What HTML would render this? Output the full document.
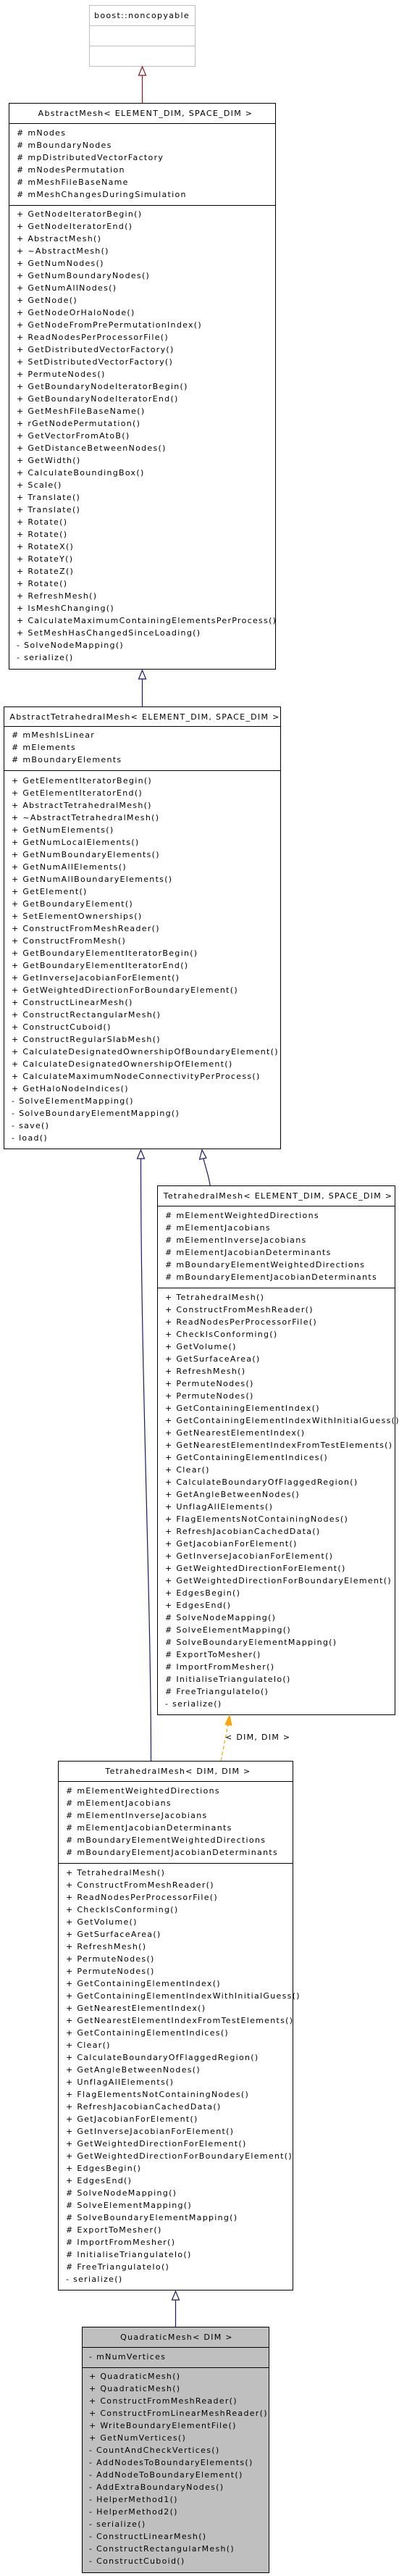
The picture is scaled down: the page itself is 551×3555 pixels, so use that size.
<!DOCTYPE html>
<html><head><meta charset="utf-8"><style>
html,body{margin:0;padding:0;background:#fff;width:551px;height:3555px;overflow:hidden}
svg{display:block}
text{font-family:"DejaVu Sans","Liberation Sans",sans-serif;font-size:11px;letter-spacing:1.3px;fill:#000}
</style></head><body>
<svg width="551" height="3555" viewBox="0 0 551 3555" xmlns="http://www.w3.org/2000/svg">
<!-- boost::noncopyable -->
<rect x="123.5" y="7.5" width="146" height="84" fill="#fff" stroke="#bfbfbf"/>
<line x1="123" y1="35.5" x2="270" y2="35.5" stroke="#bfbfbf"/>
<line x1="123" y1="63.5" x2="270" y2="63.5" stroke="#bfbfbf"/>
<text x="196" y="25" text-anchor="middle">boost::noncopyable</text>
<!-- red arrow -->
<line x1="196.5" y1="104" x2="196.5" y2="142" stroke="#8b1a1a" stroke-width="1.2"/>
<polygon points="196.5,92 191.5,104 201.5,104" fill="#fff" stroke="#8b1a1a" stroke-width="1.2"/>

<!-- AbstractMesh -->
<rect x="12.5" y="142.5" width="368" height="781" fill="#fff" stroke="#000"/>
<line x1="12" y1="170.5" x2="381" y2="170.5" stroke="#000"/>
<line x1="12" y1="283.5" x2="381" y2="283.5" stroke="#000"/>
<text x="201" y="160" text-anchor="middle">AbstractMesh&lt; ELEMENT_DIM, SPACE_DIM &gt;</text>
<text x="23" y="187"><tspan x="23">#  mNodes</tspan><tspan x="23" dy="17">#  mBoundaryNodes</tspan><tspan x="23" dy="17">#  mpDistributedVectorFactory</tspan><tspan x="23" dy="17">#  mNodesPermutation</tspan><tspan x="23" dy="17">#  mMeshFileBaseName</tspan><tspan x="23" dy="17">#  mMeshChangesDuringSimulation</tspan></text>
<text x="23" y="299"><tspan x="23">+ GetNodeIteratorBegin()</tspan><tspan x="23" dy="17">+ GetNodeIteratorEnd()</tspan><tspan x="23" dy="17">+ AbstractMesh()</tspan><tspan x="23" dy="17">+ ~AbstractMesh()</tspan><tspan x="23" dy="17">+ GetNumNodes()</tspan><tspan x="23" dy="17">+ GetNumBoundaryNodes()</tspan><tspan x="23" dy="17">+ GetNumAllNodes()</tspan><tspan x="23" dy="17">+ GetNode()</tspan><tspan x="23" dy="17">+ GetNodeOrHaloNode()</tspan><tspan x="23" dy="17">+ GetNodeFromPrePermutationIndex()</tspan><tspan x="23" dy="17">+ ReadNodesPerProcessorFile()</tspan><tspan x="23" dy="17">+ GetDistributedVectorFactory()</tspan><tspan x="23" dy="17">+ SetDistributedVectorFactory()</tspan><tspan x="23" dy="17">+ PermuteNodes()</tspan><tspan x="23" dy="17">+ GetBoundaryNodeIteratorBegin()</tspan><tspan x="23" dy="17">+ GetBoundaryNodeIteratorEnd()</tspan><tspan x="23" dy="17">+ GetMeshFileBaseName()</tspan><tspan x="23" dy="17">+ rGetNodePermutation()</tspan><tspan x="23" dy="17">+ GetVectorFromAtoB()</tspan><tspan x="23" dy="17">+ GetDistanceBetweenNodes()</tspan><tspan x="23" dy="17">+ GetWidth()</tspan><tspan x="23" dy="17">+ CalculateBoundingBox()</tspan><tspan x="23" dy="17">+ Scale()</tspan><tspan x="23" dy="17">+ Translate()</tspan><tspan x="23" dy="17">+ Translate()</tspan><tspan x="23" dy="17">+ Rotate()</tspan><tspan x="23" dy="17">+ Rotate()</tspan><tspan x="23" dy="17">+ RotateX()</tspan><tspan x="23" dy="17">+ RotateY()</tspan><tspan x="23" dy="17">+ RotateZ()</tspan><tspan x="23" dy="17">+ Rotate()</tspan><tspan x="23" dy="17">+ RefreshMesh()</tspan><tspan x="23" dy="17">+ IsMeshChanging()</tspan><tspan x="23" dy="17">+ CalculateMaximumContainingElementsPerProcess()</tspan><tspan x="23" dy="17">+ SetMeshHasChangedSinceLoading()</tspan><tspan x="23" dy="17">- SolveNodeMapping()</tspan><tspan x="23" dy="17">- serialize()</tspan></text>

<!-- arrow AbstractMesh <- AbstractTetra -->
<line x1="196.5" y1="937" x2="196.5" y2="975" stroke="#191970" stroke-width="1.2"/>
<polygon points="196.5,925 191.5,937 201.5,937" fill="#fff" stroke="#191970" stroke-width="1.2"/>

<!-- AbstractTetrahedralMesh -->
<rect x="5.5" y="975.5" width="382" height="610" fill="#fff" stroke="#000"/>
<line x1="5" y1="1002.5" x2="388" y2="1002.5" stroke="#000"/>
<line x1="5" y1="1063.5" x2="388" y2="1063.5" stroke="#000"/>
<text x="200" y="993" text-anchor="middle">AbstractTetrahedralMesh&lt; ELEMENT_DIM, SPACE_DIM &gt;</text>
<text x="16" y="1018"><tspan x="16">#  mMeshIsLinear</tspan><tspan x="16" dy="17">#  mElements</tspan><tspan x="16" dy="17">#  mBoundaryElements</tspan></text>
<text x="16" y="1081"><tspan x="16">+ GetElementIteratorBegin()</tspan><tspan x="16" dy="17">+ GetElementIteratorEnd()</tspan><tspan x="16" dy="17">+ AbstractTetrahedralMesh()</tspan><tspan x="16" dy="17">+ ~AbstractTetrahedralMesh()</tspan><tspan x="16" dy="17">+ GetNumElements()</tspan><tspan x="16" dy="17">+ GetNumLocalElements()</tspan><tspan x="16" dy="17">+ GetNumBoundaryElements()</tspan><tspan x="16" dy="17">+ GetNumAllElements()</tspan><tspan x="16" dy="17">+ GetNumAllBoundaryElements()</tspan><tspan x="16" dy="17">+ GetElement()</tspan><tspan x="16" dy="17">+ GetBoundaryElement()</tspan><tspan x="16" dy="17">+ SetElementOwnerships()</tspan><tspan x="16" dy="17">+ ConstructFromMeshReader()</tspan><tspan x="16" dy="17">+ ConstructFromMesh()</tspan><tspan x="16" dy="17">+ GetBoundaryElementIteratorBegin()</tspan><tspan x="16" dy="17">+ GetBoundaryElementIteratorEnd()</tspan><tspan x="16" dy="17">+ GetInverseJacobianForElement()</tspan><tspan x="16" dy="17">+ GetWeightedDirectionForBoundaryElement()</tspan><tspan x="16" dy="17">+ ConstructLinearMesh()</tspan><tspan x="16" dy="17">+ ConstructRectangularMesh()</tspan><tspan x="16" dy="17">+ ConstructCuboid()</tspan><tspan x="16" dy="17">+ ConstructRegularSlabMesh()</tspan><tspan x="16" dy="17">+ CalculateDesignatedOwnershipOfBoundaryElement()</tspan><tspan x="16" dy="17">+ CalculateDesignatedOwnershipOfElement()</tspan><tspan x="16" dy="17">+ CalculateMaximumNodeConnectivityPerProcess()</tspan><tspan x="16" dy="17">+ GetHaloNodeIndices()</tspan><tspan x="16" dy="17">- SolveElementMapping()</tspan><tspan x="16" dy="17">- SolveBoundaryElementMapping()</tspan><tspan x="16" dy="17">- save()</tspan><tspan x="16" dy="17">- load()</tspan></text>

<!-- arrows from AbstractTetra -->
<path d="M194.5,1599 C194.5,1900 208.5,2200 208.5,2430" fill="none" stroke="#191970" stroke-width="1.2"/>
<polygon points="194.5,1587 189.5,1599 199.5,1599" fill="#fff" stroke="#191970" stroke-width="1.2"/>
<path d="M281,1599 C284,1612 289,1625 290,1636" fill="none" stroke="#191970" stroke-width="1.2"/>
<polygon points="279,1587 275.5,1600 285,1598" fill="#fff" stroke="#191970" stroke-width="1.2"/>

<!-- TetrahedralMesh<ELEMENT_DIM,SPACE_DIM> -->
<rect x="217.5" y="1636.5" width="328" height="730" fill="#fff" stroke="#000"/>
<line x1="217" y1="1664.5" x2="546" y2="1664.5" stroke="#000"/>
<line x1="217" y1="1777.5" x2="546" y2="1777.5" stroke="#000"/>
<text x="384" y="1654" text-anchor="middle">TetrahedralMesh&lt; ELEMENT_DIM, SPACE_DIM &gt;</text>
<text x="228" y="1681"><tspan x="228">#  mElementWeightedDirections</tspan><tspan x="228" dy="17">#  mElementJacobians</tspan><tspan x="228" dy="17">#  mElementInverseJacobians</tspan><tspan x="228" dy="17">#  mElementJacobianDeterminants</tspan><tspan x="228" dy="17">#  mBoundaryElementWeightedDirections</tspan><tspan x="228" dy="17">#  mBoundaryElementJacobianDeterminants</tspan></text>
<text x="228" y="1794"><tspan x="228">+ TetrahedralMesh()</tspan><tspan x="228" dy="17">+ ConstructFromMeshReader()</tspan><tspan x="228" dy="17">+ ReadNodesPerProcessorFile()</tspan><tspan x="228" dy="17">+ CheckIsConforming()</tspan><tspan x="228" dy="17">+ GetVolume()</tspan><tspan x="228" dy="17">+ GetSurfaceArea()</tspan><tspan x="228" dy="17">+ RefreshMesh()</tspan><tspan x="228" dy="17">+ PermuteNodes()</tspan><tspan x="228" dy="17">+ PermuteNodes()</tspan><tspan x="228" dy="17">+ GetContainingElementIndex()</tspan><tspan x="228" dy="17">+ GetContainingElementIndexWithInitialGuess()</tspan><tspan x="228" dy="17">+ GetNearestElementIndex()</tspan><tspan x="228" dy="17">+ GetNearestElementIndexFromTestElements()</tspan><tspan x="228" dy="17">+ GetContainingElementIndices()</tspan><tspan x="228" dy="17">+ Clear()</tspan><tspan x="228" dy="17">+ CalculateBoundaryOfFlaggedRegion()</tspan><tspan x="228" dy="17">+ GetAngleBetweenNodes()</tspan><tspan x="228" dy="17">+ UnflagAllElements()</tspan><tspan x="228" dy="17">+ FlagElementsNotContainingNodes()</tspan><tspan x="228" dy="17">+ RefreshJacobianCachedData()</tspan><tspan x="228" dy="17">+ GetJacobianForElement()</tspan><tspan x="228" dy="17">+ GetInverseJacobianForElement()</tspan><tspan x="228" dy="17">+ GetWeightedDirectionForElement()</tspan><tspan x="228" dy="17">+ GetWeightedDirectionForBoundaryElement()</tspan><tspan x="228" dy="17">+ EdgesBegin()</tspan><tspan x="228" dy="17">+ EdgesEnd()</tspan><tspan x="228" dy="17">#  SolveNodeMapping()</tspan><tspan x="228" dy="17">#  SolveElementMapping()</tspan><tspan x="228" dy="17">#  SolveBoundaryElementMapping()</tspan><tspan x="228" dy="17">#  ExportToMesher()</tspan><tspan x="228" dy="17">#  ImportFromMesher()</tspan><tspan x="228" dy="17">#  InitialiseTriangulateIo()</tspan><tspan x="228" dy="17">#  FreeTriangulateIo()</tspan><tspan x="228" dy="17">- serialize()</tspan></text>

<!-- orange template arrow -->
<path d="M305,2430 L315,2380" fill="none" stroke="#ffa500" stroke-width="1.2" stroke-dasharray="5,3"/>
<polygon points="317,2367 311,2380 320,2381" fill="#ffa500" stroke="#ffa500"/>
<text x="311" y="2401">&lt; DIM, DIM &gt;</text>

<!-- TetrahedralMesh<DIM,DIM> -->
<rect x="80.5" y="2430.5" width="324" height="730" fill="#fff" stroke="#000"/>
<line x1="80" y1="2458.5" x2="405" y2="2458.5" stroke="#000"/>
<line x1="80" y1="2571.5" x2="405" y2="2571.5" stroke="#000"/>
<text x="246" y="2448" text-anchor="middle">TetrahedralMesh&lt; DIM, DIM &gt;</text>
<text x="91" y="2475"><tspan x="91">#  mElementWeightedDirections</tspan><tspan x="91" dy="17">#  mElementJacobians</tspan><tspan x="91" dy="17">#  mElementInverseJacobians</tspan><tspan x="91" dy="17">#  mElementJacobianDeterminants</tspan><tspan x="91" dy="17">#  mBoundaryElementWeightedDirections</tspan><tspan x="91" dy="17">#  mBoundaryElementJacobianDeterminants</tspan></text>
<text x="91" y="2588"><tspan x="91">+ TetrahedralMesh()</tspan><tspan x="91" dy="17">+ ConstructFromMeshReader()</tspan><tspan x="91" dy="17">+ ReadNodesPerProcessorFile()</tspan><tspan x="91" dy="17">+ CheckIsConforming()</tspan><tspan x="91" dy="17">+ GetVolume()</tspan><tspan x="91" dy="17">+ GetSurfaceArea()</tspan><tspan x="91" dy="17">+ RefreshMesh()</tspan><tspan x="91" dy="17">+ PermuteNodes()</tspan><tspan x="91" dy="17">+ PermuteNodes()</tspan><tspan x="91" dy="17">+ GetContainingElementIndex()</tspan><tspan x="91" dy="17">+ GetContainingElementIndexWithInitialGuess()</tspan><tspan x="91" dy="17">+ GetNearestElementIndex()</tspan><tspan x="91" dy="17">+ GetNearestElementIndexFromTestElements()</tspan><tspan x="91" dy="17">+ GetContainingElementIndices()</tspan><tspan x="91" dy="17">+ Clear()</tspan><tspan x="91" dy="17">+ CalculateBoundaryOfFlaggedRegion()</tspan><tspan x="91" dy="17">+ GetAngleBetweenNodes()</tspan><tspan x="91" dy="17">+ UnflagAllElements()</tspan><tspan x="91" dy="17">+ FlagElementsNotContainingNodes()</tspan><tspan x="91" dy="17">+ RefreshJacobianCachedData()</tspan><tspan x="91" dy="17">+ GetJacobianForElement()</tspan><tspan x="91" dy="17">+ GetInverseJacobianForElement()</tspan><tspan x="91" dy="17">+ GetWeightedDirectionForElement()</tspan><tspan x="91" dy="17">+ GetWeightedDirectionForBoundaryElement()</tspan><tspan x="91" dy="17">+ EdgesBegin()</tspan><tspan x="91" dy="17">+ EdgesEnd()</tspan><tspan x="91" dy="17">#  SolveNodeMapping()</tspan><tspan x="91" dy="17">#  SolveElementMapping()</tspan><tspan x="91" dy="17">#  SolveBoundaryElementMapping()</tspan><tspan x="91" dy="17">#  ExportToMesher()</tspan><tspan x="91" dy="17">#  ImportFromMesher()</tspan><tspan x="91" dy="17">#  InitialiseTriangulateIo()</tspan><tspan x="91" dy="17">#  FreeTriangulateIo()</tspan><tspan x="91" dy="17">- serialize()</tspan></text>

<!-- arrow to Quadratic -->
<line x1="242.5" y1="3174" x2="242.5" y2="3211" stroke="#191970" stroke-width="1.2"/>
<polygon points="242.5,3162 237.5,3174 247.5,3174" fill="#fff" stroke="#191970" stroke-width="1.2"/>

<!-- QuadraticMesh -->
<rect x="113.5" y="3211.5" width="258" height="339" fill="#bfbfbf" stroke="#000"/>
<line x1="113" y1="3239.5" x2="372" y2="3239.5" stroke="#000"/>
<line x1="113" y1="3267.5" x2="372" y2="3267.5" stroke="#000"/>
<text x="244" y="3229" text-anchor="middle">QuadraticMesh&lt; DIM &gt;</text>
<text x="123" y="3256">- mNumVertices</text>
<text x="123" y="3283"><tspan x="123">+ QuadraticMesh()</tspan><tspan x="123" dy="17">+ QuadraticMesh()</tspan><tspan x="123" dy="17">+ ConstructFromMeshReader()</tspan><tspan x="123" dy="17">+ ConstructFromLinearMeshReader()</tspan><tspan x="123" dy="17">+ WriteBoundaryElementFile()</tspan><tspan x="123" dy="17">+ GetNumVertices()</tspan><tspan x="123" dy="17">- CountAndCheckVertices()</tspan><tspan x="123" dy="17">- AddNodesToBoundaryElements()</tspan><tspan x="123" dy="17">- AddNodeToBoundaryElement()</tspan><tspan x="123" dy="17">- AddExtraBoundaryNodes()</tspan><tspan x="123" dy="17">- HelperMethod1()</tspan><tspan x="123" dy="17">- HelperMethod2()</tspan><tspan x="123" dy="17">- serialize()</tspan><tspan x="123" dy="17">- ConstructLinearMesh()</tspan><tspan x="123" dy="17">- ConstructRectangularMesh()</tspan><tspan x="123" dy="17">- ConstructCuboid()</tspan></text>
</svg>
</body></html>
